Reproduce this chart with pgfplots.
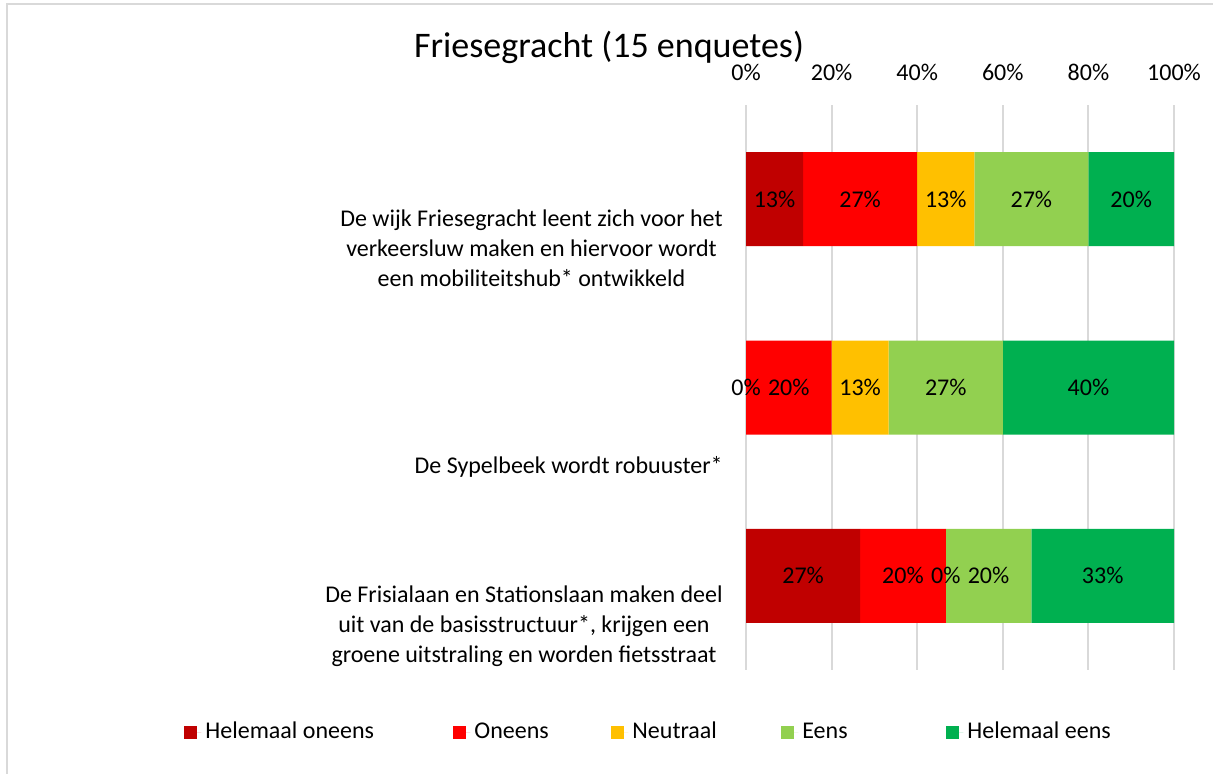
\documentclass[border=0pt]{standalone}
\usepackage{fontspec}
\setmainfont{Carlito}
\usepackage{pgfplots}
\pgfplotsset{compat=1.18}
\usepackage{pgfplotstable}

\definecolor{c1}{HTML}{C00000}
\definecolor{c2}{HTML}{FF0000}
\definecolor{c3}{HTML}{FFC000}
\definecolor{c4}{HTML}{92D050}
\definecolor{c5}{HTML}{00B050}
\definecolor{gridgray}{HTML}{D9D9D9}

\pgfplotstableread{
y ho o n e he
0 13.33 26.67 13.33 26.67 20.00
1 0 20.00 13.33 26.67 40.00
2 26.67 20.00 0 20.00 33.33
}\data

\newcommand{\bodyfont}{\fontsize{12}{15}\selectfont}

\pgfplotsset{
  myax/.style={
    at={(373pt,-335pt)}, anchor=south west,
    scale only axis, width=214pt, height=282.5pt,
    xmin=0, xmax=100, ymin=-0.5, ymax=2.5, y dir=reverse,
    ytick=\empty, axis line style={draw=none},
    clip=false,
    /pgf/number format/assume math mode=true,
  },
  lbl/.style={
    only marks, mark=none, forget plot,
    point meta=explicit,
    nodes near coords={\pgfmathprintnumber[fixed,precision=0]{\pgfplotspointmeta}\%},
    every node near coord/.append style={anchor=center, font=\bodyfont, text=black, inner sep=0pt},
  },
}

\begin{document}
\begin{tikzpicture}
\useasboundingbox (0,0) rectangle (606.5pt,-386.5pt);
\draw[gridgray, line width=1pt] (3.5pt,-390pt) -- (3.5pt,-2pt) -- (610pt,-2pt);

\begin{axis}[myax,
  xbar stacked, bar width=47pt,
  xtick={0,20,40,60,80,100},
  xticklabel={\pgfmathprintnumber{\tick}\%},
  xticklabel pos=upper,
  xticklabel style={anchor=base, font=\bodyfont},
  xticklabel shift=12.5pt,
  major tick length=0pt,
  xmajorgrids, grid style={gridgray, line width=1pt},
  legend columns=5,
  legend style={draw=none, at={(-1.327,-0.1097)}, anchor=west, font=\bodyfont,
    /tikz/every even column/.append style={column sep=0pt}},
  legend image code/.code={\path (0pt,0pt) -- (8.5pt,0pt);\fill[#1] (0pt,-3.25pt) rectangle (6.5pt,3.25pt);},
]
\addplot[fill=c1, draw=none] table[x=ho, y=y]{\data};
\addplot[fill=c2, draw=none] table[x=o, y=y]{\data};
\addplot[fill=c3, draw=none] table[x=n, y=y]{\data};
\addplot[fill=c4, draw=none] table[x=e, y=y]{\data};
\addplot[fill=c5, draw=none] table[x=he, y=y]{\data};
\legend{\makebox[122pt][l]{Helemaal oneens}, \makebox[66.5pt][l]{Oneens}, \makebox[72.5pt][l]{Neutraal}, \makebox[70pt][l]{Eens}, Helemaal eens}
\end{axis}

\begin{axis}[myax, hide axis]
\addplot[lbl] table[x expr=\thisrow{ho}/2, y=y, meta=ho]{\data};
\addplot[lbl] table[x expr=\thisrow{ho}+\thisrow{o}/2, y=y, meta=o]{\data};
\addplot[lbl] table[x expr=\thisrow{ho}+\thisrow{o}+\thisrow{n}/2, y=y, meta=n]{\data};
\addplot[lbl] table[x expr=\thisrow{ho}+\thisrow{o}+\thisrow{n}+\thisrow{e}/2, y=y, meta=e]{\data};
\addplot[lbl] table[x expr=\thisrow{ho}+\thisrow{o}+\thisrow{n}+\thisrow{e}+\thisrow{he}/2, y=y, meta=he]{\data};
\end{axis}

\node[anchor=base, font=\fontsize{18}{21}\selectfont] at (304.5pt,-28.5pt) {Friesegracht (15 enquetes)};

\node[anchor=east, align=center, inner sep=0pt, font=\bodyfont] at (361.5pt,-124pt)
  {De wijk Friesegracht leent zich voor het\\verkeersluw maken en hiervoor wordt\\een mobiliteitshub* ontwikkeld};
\node[anchor=east, align=center, inner sep=0pt, font=\bodyfont] at (361.5pt,-233.5pt)
  {De Sypelbeek wordt robuuster*};
\node[anchor=east, align=center, inner sep=0pt, font=\bodyfont] at (361.5pt,-313pt)
  {De Frisialaan en Stationslaan maken deel\\uit van de basisstructuur*, krijgen een\\groene uitstraling en worden fietsstraat};
\end{tikzpicture}
\end{document}
